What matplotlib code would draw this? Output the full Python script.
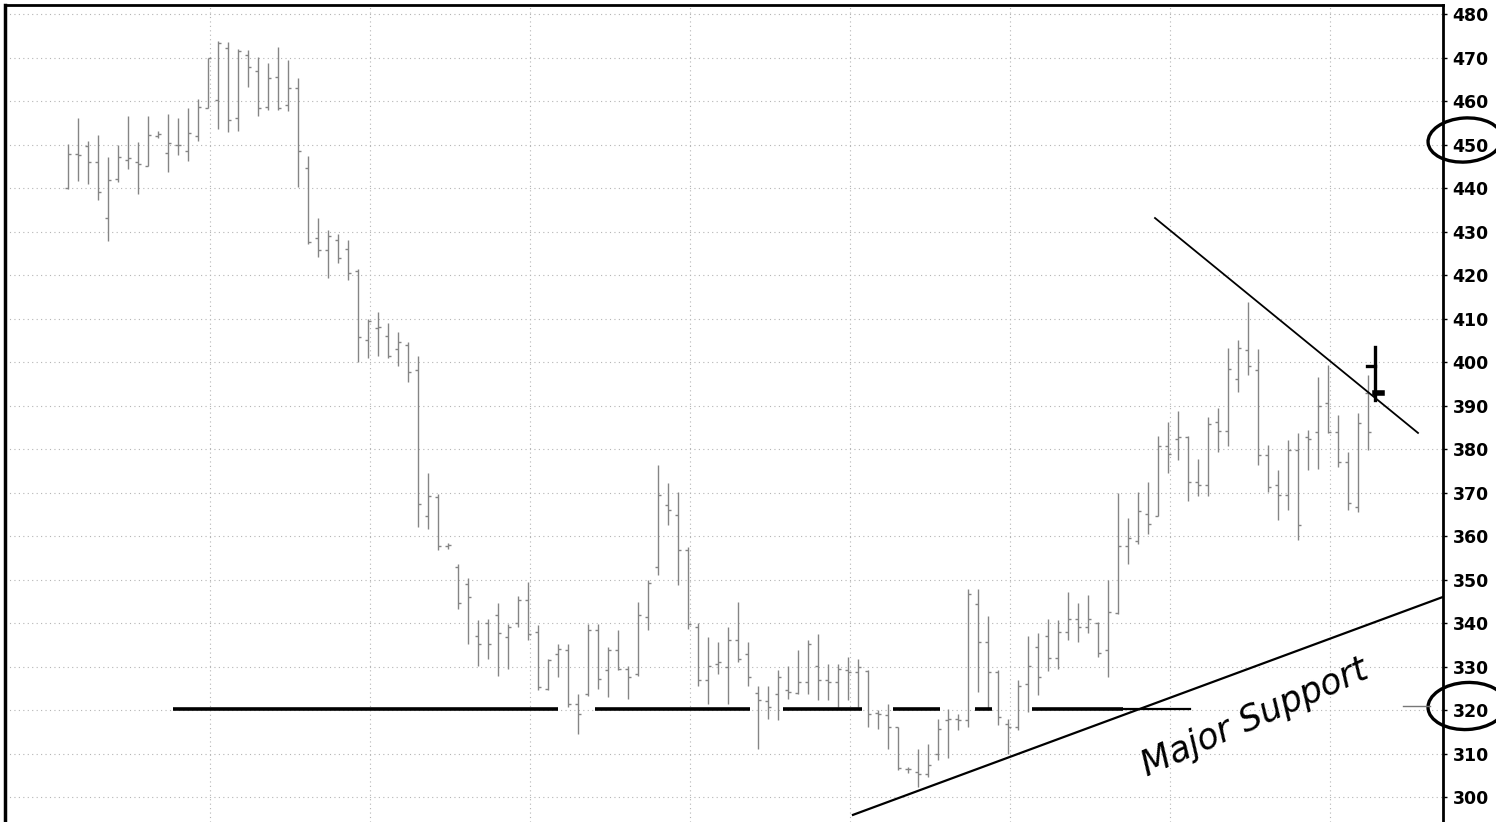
import numpy as np
import matplotlib
matplotlib.use("Agg")
import matplotlib.pyplot as plt
from matplotlib.patches import Ellipse

# ---- OHLC data (bar index 0..130) ----
opens = [439.9, 447.8, 449.6, 446.0, 433.2, 442.0, 446.5, 446.0, 445.1, 452.0,
         448.1, 450.0, 448.4, 452.0, 458.4, 460.2, 472.2, 456.0, 470.6, 466.8,
         458.6, 465.6, 459.0, 463.0, 444.6, 428.6, 425.7, 428.0, 426.0, 421.0,
         405.0, 407.9, 406.0, 403.0, 404.0, 398.2, 364.7, 369.0, 357.8, 352.9,
         349.0, 337.0, 340.0, 341.8, 336.8, 340.0, 345.2, 337.9, 324.8, 332.9,
         333.7, 321.4, 323.7, 338.3, 329.1, 333.7, 329.5, 328.3, 341.4, 352.9,
         367.2, 364.8, 356.8, 339.1, 326.8, 330.6, 330.0, 336.0, 332.9, 324.0,
         322.0, 323.7, 324.5, 324.0, 326.4, 330.2, 326.8, 326.4, 329.1, 328.7,
         329.0, 319.4, 318.8, 316.1, 306.5, 305.8, 305.4, 310.0, 317.6, 318.0,
         317.6, 344.4, 335.6, 328.7, 316.9, 316.1, 326.0, 334.4, 337.0, 332.0,
         338.0, 341.0, 339.0, 340.0, 333.8, 342.2, 357.7, 358.9, 365.0, 364.5,
         380.8, 382.3, 382.7, 372.5, 371.7, 386.1, 384.2, 396.0, 402.8, 398.1,
         378.6, 371.7, 369.4, 379.7, 382.8, 383.8, 390.5, 383.9, 377.0, 366.7,
         392.8]
highs = [450.2, 456.1, 450.7, 452.1, 447.1, 449.9, 456.6, 450.5, 456.6, 453.0,
         456.9, 456.1, 458.4, 460.4, 470.0, 473.9, 473.6, 472.0, 471.8, 470.2,
         468.7, 472.5, 469.5, 465.4, 447.3, 433.0, 430.4, 429.5, 428.1, 421.4,
         409.8, 411.6, 408.9, 407.0, 404.5, 401.3, 374.6, 369.6, 358.5, 353.6,
         350.3, 340.6, 341.0, 344.6, 339.8, 346.2, 349.5, 339.5, 331.8, 335.2,
         335.2, 323.7, 339.8, 339.8, 334.5, 338.3, 330.2, 344.8, 349.8, 376.4,
         372.3, 370.2, 357.5, 340.0, 336.8, 335.6, 339.1, 344.8, 335.6, 325.6,
         325.6, 329.1, 330.2, 333.7, 336.0, 337.5, 330.6, 330.6, 332.1, 331.8,
         329.1, 320.0, 321.5, 316.1, 307.0, 311.1, 312.3, 318.0, 320.3, 319.2,
         347.8, 347.8, 341.7, 329.1, 318.0, 326.8, 337.1, 337.6, 341.0, 340.7,
         347.2, 344.5, 346.4, 340.3, 349.8, 369.8, 364.2, 370.2, 372.5, 383.1,
         386.1, 388.8, 383.1, 377.8, 387.3, 389.5, 403.2, 405.1, 413.8, 403.1,
         380.9, 375.1, 382.0, 383.6, 384.3, 396.5, 399.3, 387.8, 379.3, 388.2,
         397.0]
lows = [439.7, 441.7, 440.9, 437.3, 427.8, 441.4, 444.4, 438.6, 445.0, 451.5,
        443.7, 447.6, 446.1, 450.7, 458.3, 453.6, 452.9, 453.0, 463.3, 456.6,
        457.9, 457.9, 457.8, 440.2, 427.2, 424.1, 419.2, 422.8, 418.8, 400.0,
        400.9, 401.3, 400.9, 399.1, 395.5, 362.0, 361.6, 356.7, 357.0, 343.3,
        335.1, 330.2, 331.8, 327.9, 329.5, 339.1, 336.0, 324.5, 324.5, 327.5,
        320.6, 314.5, 323.3, 324.8, 322.9, 329.1, 322.5, 327.9, 338.3, 351.0,
        362.5, 348.7, 338.7, 325.6, 321.4, 328.3, 321.4, 331.0, 325.6, 311.1,
        318.0, 317.6, 322.6, 323.7, 323.7, 322.2, 322.2, 320.7, 322.2, 320.7,
        316.1, 315.7, 311.1, 306.2, 305.5, 302.4, 304.7, 308.5, 308.9, 315.3,
        316.1, 324.1, 320.3, 316.5, 310.0, 315.3, 319.5, 323.4, 329.0, 329.5,
        336.0, 335.7, 337.6, 332.2, 327.6, 342.0, 353.6, 358.1, 360.4, 364.5,
        374.4, 377.4, 368.0, 369.1, 369.1, 379.3, 380.8, 393.0, 397.0, 376.3,
        370.2, 363.6, 366.0, 359.0, 375.1, 375.4, 383.6, 375.9, 366.0, 365.6,
        379.7]
closes = [447.8, 447.5, 446.0, 439.0, 441.9, 447.2, 447.0, 445.5, 452.1, 452.5,
          450.4, 449.8, 452.7, 458.6, 469.8, 473.3, 455.6, 471.5, 467.9, 458.4,
          465.4, 458.3, 463.0, 448.5, 427.7, 425.7, 429.0, 424.0, 420.5, 405.8,
          409.4, 408.0, 401.3, 404.5, 397.8, 367.4, 369.2, 357.6, 358.0, 344.6,
          346.0, 335.1, 335.2, 337.7, 339.1, 345.2, 337.5, 325.2, 331.4, 334.1,
          321.4, 319.1, 338.3, 327.2, 333.7, 329.5, 327.5, 341.8, 349.1, 369.5,
          366.0, 356.8, 339.8, 326.8, 330.2, 331.0, 336.0, 331.8, 327.5, 322.2,
          320.7, 327.6, 324.1, 326.4, 335.2, 326.8, 326.4, 329.5, 328.7, 329.8,
          319.2, 319.2, 316.1, 306.6, 306.4, 305.4, 307.3, 315.7, 318.0, 317.6,
          346.6, 335.6, 328.7, 318.4, 316.1, 325.6, 330.2, 327.6, 332.0, 338.0,
          341.0, 339.0, 341.0, 333.0, 342.6, 357.7, 359.6, 365.7, 362.7, 380.8,
          378.9, 382.7, 372.5, 371.7, 385.8, 384.2, 398.3, 403.2, 399.0, 378.6,
          371.3, 369.4, 379.7, 362.5, 382.4, 390.0, 384.0, 377.0, 367.5, 385.9,
          384.0]

y_ticks = list(range(300, 490, 10))
x_grid = [14.2, 30.2, 46.2, 62.2, 78.2, 94.2, 110.2, 126.2]

# ---- hand-drawn annotations (data coordinates) ----
support_h_segments = [(10.5, 49.0), (52.7, 68.2), (71.5, 79.4), (82.5, 87.2),
                      (90.7, 92.4), (96.4, 105.5)]
support_h_thin = (105.5, 112.2)
support_h_level = 320.3
major_support_x = [78.5, 137.5]
major_support_y = [295.9, 346.0]
resistance_x = [108.7, 135.0]
resistance_y = [433.1, 383.7]

W, H = 1496, 822
fig = plt.figure(figsize=(W / 100, H / 100), dpi=100)
fig.patch.set_facecolor("white")
ax = fig.add_axes([5 / W, 0, (1443 - 5) / W, (H - 5) / H])

n = len(opens)
x = np.arange(n)
bar_color = "#858585"
tw = 0.32
ax.vlines(x, lows, highs, color=bar_color, lw=1.0, zorder=3)
ax.hlines(opens, x - tw, x, color=bar_color, lw=1.0, zorder=3)
ax.hlines(closes, x, x + tw, color=bar_color, lw=1.0, zorder=3)

ax.set_xlim(-6.3, 137.5)
ax.set_ylim(294.26, 482.07)

# grid
for v in y_ticks:
    ax.axhline(v, color="#b5b5b5", lw=0.8, ls=(0, (1, 3)), zorder=1)
for g in x_grid:
    ax.axvline(g, color="#b5b5b5", lw=0.8, ls=(0, (1, 3)), zorder=1)

# axes styling
ax.yaxis.tick_right()
ax.set_yticks(y_ticks)
ax.set_yticklabels([str(v) for v in y_ticks], fontsize=12.5, fontweight="bold",
                   family="DejaVu Sans")
ax.tick_params(axis="y", direction="out", length=3, width=1, pad=4, colors="black")
ax.set_xticks([])
ax.spines["bottom"].set_visible(False)
ax.spines["left"].set_linewidth(2.5)
ax.spines["top"].set_linewidth(2.0)
ax.spines["right"].set_linewidth(2.0)

# annotations in data space
for a, b in support_h_segments:
    ax.plot([a, b], [support_h_level, support_h_level], color="black", lw=2.6,
            solid_capstyle="butt", zorder=5)
ax.plot(list(support_h_thin), [support_h_level, support_h_level], color="black",
        lw=1.6, zorder=5)
ax.plot(major_support_x, major_support_y, color="black", lw=1.6, zorder=5)
ax.plot(resistance_x, resistance_y, color="black", lw=1.3, zorder=5)
# small hand mark at last bar
ax.plot([130.7, 130.7], [391.3, 403.5], color="black", lw=2.4, zorder=6)
ax.plot([129.9, 130.7], [399.1, 399.1], color="black", lw=2.4, zorder=6)
ax.plot([130.7, 131.4], [392.9, 392.9], color="black", lw=4.0, zorder=6)

# overlay in pixel coordinates for hand-drawn circles / text
ov = fig.add_axes([0, 0, 1, 1], zorder=10)
ov.set_xlim(0, W)
ov.set_ylim(H, 0)
ov.axis("off")
ov.patch.set_alpha(0)
ov.add_patch(Ellipse((1465, 140), 74, 44, angle=-4, fill=False, lw=2.4,
                     edgecolor="black", clip_on=False))
ov.add_patch(Ellipse((1467, 706), 78, 47, angle=-3, fill=False, lw=2.4,
                     edgecolor="black", clip_on=False))
ov.plot([1403, 1430], [706, 706], color="#777777", lw=1.0)
ov.text(1255, 718, "Major Support", rotation=24, fontsize=25, style="italic",
        ha="center", va="center", color="black", family="DejaVu Sans")

fig.savefig("out.png", dpi=100)
